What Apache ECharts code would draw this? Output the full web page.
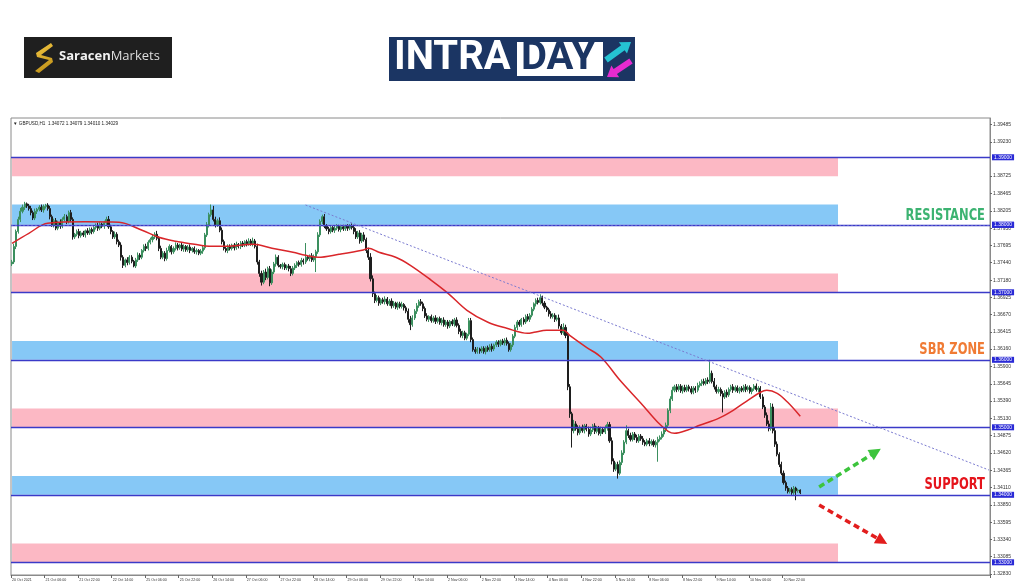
<!DOCTYPE html>
<html><head><meta charset="utf-8">
<script src="https://cdn.jsdelivr.net/npm/echarts@6/dist/echarts.min.js"></script>
<style>html,body{margin:0;padding:0;background:#fff}#c{width:1024px;height:587px}</style>
</head><body><div id="c"></div>
<script>
// ---------- data ----------
const tickLabels = ["20 Oct 2021","21 Oct 06:00","21 Oct 22:00","22 Oct 14:00","25 Oct 06:00","25 Oct 22:00","26 Oct 14:00","27 Oct 06:00","27 Oct 22:00","28 Oct 14:00","29 Oct 06:00","29 Oct 22:00","1 Nov 14:00","2 Nov 06:00","2 Nov 22:00","3 Nov 14:00","4 Nov 06:00","4 Nov 22:00","5 Nov 14:00","8 Nov 06:00","8 Nov 22:00","9 Nov 14:00","10 Nov 06:00","10 Nov 22:00"];
const priceTicks = [1.39485,1.39230,1.38725,1.38465,1.38205,1.37950,1.37695,1.37440,1.37180,1.36925,1.36670,1.36415,1.36160,1.35900,1.35645,1.35390,1.35130,1.34875,1.34620,1.34365,1.34110,1.33850,1.33595,1.33340,1.33085,1.32830];
const levels = [1.39,1.38,1.37,1.36,1.35,1.34,1.33];
const dottedLevel = 1.383;
const pinkZones = [[1.3872,1.39],[1.37,1.3728],[1.35,1.3528],[1.33,1.3328]];
const blueZones = [[1.38,1.383],[1.36,1.3628],[1.34,1.3428]];
const firstOpen = 13742; // price x 10000
const closePips = [
13745,13768,13790,13808,13820,13826,13831,13828,13824,13818,13810,13820,13823,13826,13822,13827,13829,13824,13812,13800,
13806,13795,13803,13798,13808,13812,13805,13818,13808,13782,13786,13790,13784,13788,13785,13791,13788,13793,13790,13796,
13799,13795,13801,13798,13803,13808,13797,13790,13782,13786,13775,13770,13752,13740,13748,13744,13752,13746,13739,13748,
13755,13752,13762,13768,13765,13774,13778,13782,13786,13780,13765,13752,13758,13750,13762,13768,13760,13765,13770,13766,
13770,13764,13768,13763,13767,13762,13765,13760,13762,13758,13761,13766,13785,13800,13815,13822,13808,13800,13806,13792,
13775,13765,13762,13768,13765,13770,13766,13771,13768,13773,13770,13775,13772,13776,13772,13776,13768,13745,13728,13715,
13730,13722,13735,13714,13730,13742,13752,13740,13738,13741,13736,13739,13735,13728,13736,13740,13744,13741,13747,13745,
13752,13750,13754,13748,13753,13760,13785,13805,13812,13798,13794,13790,13796,13792,13795,13798,13793,13797,13794,13798,
13795,13799,13796,13790,13782,13788,13776,13785,13778,13762,13752,13720,13698,13688,13692,13684,13689,13686,13690,13683,
13687,13680,13684,13678,13683,13679,13682,13677,13672,13660,13652,13662,13672,13680,13686,13683,13676,13665,13660,13664,
13658,13662,13657,13661,13655,13659,13652,13656,13650,13657,13653,13659,13651,13642,13636,13640,13632,13638,13658,13630,
13615,13612,13616,13613,13617,13612,13618,13615,13620,13616,13622,13626,13623,13628,13625,13629,13624,13615,13622,13635,
13648,13656,13652,13660,13656,13664,13660,13666,13675,13683,13688,13685,13692,13684,13678,13674,13668,13664,13666,13660,
13662,13650,13640,13648,13636,13560,13520,13495,13505,13498,13492,13500,13495,13502,13497,13490,13496,13502,13494,13499,
13491,13497,13493,13499,13504,13480,13450,13438,13445,13432,13448,13462,13478,13495,13488,13482,13490,13485,13480,13487,
13483,13478,13475,13480,13476,13479,13474,13478,13482,13485,13490,13496,13503,13525,13542,13555,13560,13556,13561,13554,
13559,13555,13560,13557,13552,13558,13555,13562,13565,13568,13565,13570,13568,13580,13568,13560,13553,13556,13550,13545,
13552,13548,13556,13560,13555,13559,13554,13558,13555,13560,13556,13559,13553,13557,13561,13556,13558,13545,13530,13518,
13505,13498,13530,13495,13475,13460,13445,13432,13418,13410,13405,13408,13403,13410,13406,13407,13403];
const upWick = [
3,4,3,4,5,4,3,2,3,4,3,4,2,3,4,3,2,3,4,3,
3,4,3,5,3,4,3,3,4,3,2,3,4,3,3,2,4,3,3,2,
3,4,3,2,3,4,5,3,2,4,3,3,4,3,2,4,3,3,2,3,
4,3,2,3,4,3,3,4,3,5,3,4,3,3,4,3,2,3,4,3,
2,3,3,2,3,4,2,3,3,2,3,4,3,4,3,8,6,4,3,5,
4,3,2,3,3,2,3,4,2,3,3,2,3,4,3,5,3,4,3,4,
3,5,3,4,4,3,4,3,2,3,3,2,3,4,3,3,2,3,4,3,
21,3,2,4,3,3,4,3,3,4,3,3,2,3,4,3,2,3,3,2,
3,2,3,4,5,3,4,3,4,3,4,6,5,3,4,3,2,3,4,3,
3,4,3,2,3,3,4,2,3,4,5,4,3,4,3,4,3,3,4,2,
3,3,4,2,3,3,4,3,3,2,3,3,4,3,4,3,3,2,4,4,
3,4,3,2,3,3,2,3,3,4,2,3,3,2,3,3,4,3,3,3,
4,3,3,2,3,3,4,3,3,2,3,4,5,3,3,2,3,4,3,3,
4,5,3,6,4,5,4,3,6,4,5,3,4,3,3,4,5,3,4,3,
3,4,3,4,4,4,5,4,3,4,3,4,3,8,3,4,3,3,4,3,
3,4,3,3,4,3,3,3,4,3,4,3,4,3,4,5,3,4,3,3,
3,4,3,3,4,3,3,4,3,3,4,3,4,20,4,5,3,4,3,4,
3,4,3,3,4,3,3,2,3,3,4,3,3,2,3,4,3,3,4,3,
4,5,6,5,4,4,3,4,4,3,3,2,3,3,2,2,1];
const downWick = [
3,3,4,3,4,3,4,3,3,4,3,3,4,3,3,4,3,3,4,3,
4,3,3,4,3,3,4,3,3,4,3,3,4,3,3,4,3,3,4,3,
3,4,3,3,4,3,3,4,3,3,4,3,5,4,3,4,3,3,2,3,
3,4,3,3,4,3,3,4,3,3,4,3,3,4,3,3,4,3,3,4,
3,3,4,3,3,4,3,3,4,3,3,4,3,3,4,3,3,4,3,3,
4,3,3,4,3,3,4,3,3,4,3,3,4,3,3,4,3,4,5,5,
3,4,3,5,3,3,4,3,3,4,3,3,4,4,3,3,4,3,3,4,
3,3,4,3,3,23,3,3,4,3,3,4,3,3,4,3,3,4,3,3,
4,3,3,4,3,3,4,3,3,4,4,4,5,4,3,4,3,3,4,3,
3,4,3,3,4,3,3,4,3,5,8,3,3,4,3,3,4,3,3,4,
3,3,4,3,3,4,3,3,4,3,3,4,3,4,3,4,3,3,3,4,
3,3,3,4,3,3,4,3,3,4,3,3,4,3,3,4,3,3,3,3,
3,4,3,3,4,3,3,4,3,3,4,3,3,4,3,3,4,3,3,4,
3,4,3,3,4,5,6,25,4,3,4,3,3,4,3,4,3,3,4,3,
3,4,3,3,4,3,5,4,3,8,3,4,3,3,4,3,3,4,3,3,
3,4,3,3,4,3,3,4,29,3,3,4,3,3,4,3,3,4,3,3,
4,3,3,4,3,3,4,3,3,4,3,3,4,3,3,4,3,3,4,23,
3,4,3,3,4,3,3,4,3,3,4,3,3,4,3,3,4,3,3,4,
3,4,3,4,4,3,4,3,3,4,3,3,3,3,14,3,2];
const maIndex = [0,8,17,35,51,62,70,78,87,94,102,115,124,134,140,146,156,167,170,175,183,190,200,208,217,227,236,246,249,255,263,266,274,281,290,300,308,313,316,322,328,337,344,351,357,360,365,370,376];
const maValue = [1.37726,1.37874,1.38022,1.38044,1.38037,1.37919,1.37815,1.37756,1.37711,1.37681,1.37681,1.37711,1.37652,1.37593,1.37548,1.37519,1.37563,1.37622,1.37652,1.37593,1.37519,1.37400,1.37178,1.36985,1.36733,1.36556,1.36467,1.36393,1.36407,1.36437,1.36437,1.36363,1.36185,1.36037,1.35696,1.35356,1.35074,1.34941,1.34911,1.34956,1.35030,1.35133,1.35252,1.35400,1.35519,1.35548,1.35504,1.35370,1.35163];
const trendLine = [[140,1.38293],[466,1.34367]];
const upArrow = [[385.4,1.34116],[411.6,1.34634]];
const downArrow = [[385.4,1.33849],[415,1.33315]];
const zoneLabels = [["RESISTANCE",1.38126,"#3cb371"],["SBR ZONE",1.36141,"#f07b35"],["SUPPORT",1.34141,"#e5141b"]];
const headerText = "GBPUSD,H1  1.34072 1.34079 1.34010 1.34029";

if (closePips.length !== upWick.length || closePips.length !== downWick.length) throw new Error('len ' + closePips.length + ' ' + upWick.length + ' ' + downWick.length);
if (maIndex.length !== maValue.length) throw new Error('ma len');

// ---------- build ----------
const SLOTS = 467, ZONE_END = 394;
const slots = Array.from({length: SLOTS}, (_, i) => String(i));
const candles = closePips.map((c, i) => {
  const o = i === 0 ? firstOpen : closePips[i - 1];
  const hi = Math.max(o, c) + upWick[i], lo = Math.min(o, c) - downWick[i];
  return [o / 1e4, c / 1e4, lo / 1e4, hi / 1e4];
});
const maData = maIndex.map((x, k) => [x, maValue[k]]);
const LINE = '#3a3ac8';
const SMALL = 'Liberation Sans';
const levelLines = levels.map(v => ({yAxis: v}));
levelLines.push({yAxis: dottedLevel, lineStyle: {type: [2, 2], width: 1, color: '#6060d0'}});
const zones = pinkZones.map(z => [{xAxis: 0, yAxis: z[0], itemStyle: {color: '#fcb8c4'}}, {xAxis: ZONE_END, yAxis: z[1]}])
  .concat(blueZones.map(z => [{xAxis: 0, yAxis: z[0], itemStyle: {color: '#86c8f6'}}, {xAxis: ZONE_END, yAxis: z[1]}]));
const tickIdx = idx => idx % 16 === 0 && idx / 16 < tickLabels.length;

const logos = [
  {type: 'text', left: 13, top: 121, style: {text: '\u25BC ' + headerText, fontSize: 4.6, fill: '#222', fontFamily: SMALL}},
  // Saracen Markets logo
  {type: 'rect', shape: {x: 24, y: 37, width: 148, height: 41}, style: {fill: '#1f1f1f'}},
  {type: 'polygon', shape: {points: [[51,43],[36,53],[37,57],[49,60],[35,71],[39,73],[53,62],[52,58],[41,55],[53,46]]},
    style: {fill: new echarts.graphic.LinearGradient(0, 0, 1, 1, [{offset: 0, color: '#f6c945'}, {offset: 1, color: '#b88a12'}])}},
  {type: 'text', left: 59, top: 50, style: {text: '{b|Saracen}{n|Markets}', rich: {b: {fontSize: 13, fontWeight: 'bold', fill: '#f2f2f2', fontFamily: 'Open Sans'}, n: {fontSize: 13, fill: '#dedede', fontFamily: 'Open Sans'}}}},
  // INTRADAY logo
  {type: 'rect', shape: {x: 389, y: 37, width: 246, height: 44}, style: {fill: '#1b3563'}},
  {type: 'rect', shape: {x: 517, y: 42, width: 86, height: 34}, style: {fill: '#ffffff'}},
  {type: 'text', left: 394, top: 39, style: {text: 'INTRA', fontSize: 40, fontWeight: 'bold', fill: '#ffffff', fontFamily: 'Roboto'}},
  {type: 'text', left: 521, top: 39, style: {text: 'DAY', fontSize: 40, fontWeight: 'bold', fill: '#1b3563', fontFamily: 'Roboto'}},
  {type: 'polygon', shape: {points: [[604.25,57.57],[621.15,45.37],[618.8,42.13],[631,42],[627,53.5],[624.65,50.23],[607.75,62.43]]}, style: {fill: '#25c3d3'}},
  {type: 'polygon', shape: {points: [[629.33,58.5],[613.63,68.95],[611.4,65.6],[607,77],[619.2,77.3],[616.97,73.95],[632.67,63.5]]}, style: {fill: '#e52bd0'}}
];

const chart = echarts.init(document.getElementById('c'), null, {renderer: 'canvas'});
chart.setOption({
  animation: false,
  backgroundColor: '#fff',
  grid: {left: 11, right: 34, top: 118, bottom: 12, show: true, borderColor: '#8a8a8a', borderWidth: 1, backgroundColor: '#fff'},
  xAxis: {
    type: 'category', data: slots, boundaryGap: true,
    axisLine: {show: true, lineStyle: {color: '#8a8a8a'}},
    axisTick: {show: true, interval: tickIdx, length: 3, lineStyle: {color: '#666'}},
    axisLabel: {interval: tickIdx, formatter: (v, i) => tickLabels[i / 16] || '', fontSize: 3.6, color: '#333', align: 'left', margin: 3, fontFamily: SMALL},
    splitLine: {show: false}
  },
  yAxis: {
    type: 'value', position: 'right', min: 1.32812, max: 1.39582, scale: true,
    axisLine: {show: true, lineStyle: {color: '#8a8a8a'}},
    axisTick: {show: true, customValues: priceTicks, length: 2, lineStyle: {color: '#666'}},
    axisLabel: {customValues: priceTicks, formatter: v => v.toFixed(5), fontSize: 5, color: '#333', margin: 3, fontFamily: SMALL},
    splitLine: {show: false}
  },
  series: [
    {
      type: 'candlestick', data: candles, barWidth: '75%', z: 3,
      itemStyle: {color: '#3b8f5e', color0: '#1e1e1e', borderColor: '#3b8f5e', borderColor0: '#1e1e1e', borderWidth: 1},
      markArea: {silent: true, data: zones, z: 1},
      markLine: {
        silent: true, symbol: ['none', 'none'], animation: false,
        lineStyle: {color: LINE, width: 1.3, type: 'solid'},
        label: {show: true, position: 'end', distance: 2, formatter: p => p.value.toFixed(5), color: '#fff', backgroundColor: '#2a2ad6', fontSize: 5, padding: [1, 2, 0, 2], fontFamily: SMALL},
        data: levelLines
      }
    },
    {
      type: 'line', data: maData, smooth: 0.35, showSymbol: false, symbol: 'none', z: 4,
      lineStyle: {color: '#d9262a', width: 1.5},
      markLine: {
        silent: true, symbol: ['none', 'none'], label: {show: false},
        lineStyle: {color: '#7a7ad0', width: 1, type: [2, 2]},
        data: [[{coord: trendLine[0]}, {coord: trendLine[1]}]]
      }
    },
    {
      type: 'line', data: [], z: 5,
      markLine: {
        silent: true, symbol: ['none', 'triangle'], symbolSize: [12, 12], label: {show: false},
        data: [
          [{coord: upArrow[0], lineStyle: {color: '#3cc43c', width: 3.5, type: [6, 4]}, itemStyle: {color: '#3cc43c'}}, {coord: upArrow[1]}],
          [{coord: downArrow[0], lineStyle: {color: '#e21d1d', width: 3.5, type: [6, 4]}, itemStyle: {color: '#e21d1d'}}, {coord: downArrow[1]}]
        ]
      }
    }
  ],
  graphic: logos
});

// zone captions anchored to data coordinates, drawn condensed
const captions = zoneLabels.map((z, k) => {
  const p = chart.convertToPixel({xAxisIndex: 0, yAxisIndex: 0}, [SLOTS - 1, z[1]]);
  return {type: 'text', id: 'cap' + k, x: p[0] - 4, y: p[1], scaleX: 0.8, z: 50,
    style: {text: z[0], align: 'right', verticalAlign: 'middle', fill: z[2], fontSize: 16, fontWeight: 'bold', fontFamily: '"DejaVu Sans Condensed", "DejaVu Sans"'}};
});
chart.setOption({graphic: logos.concat(captions)});
</script></body></html>
